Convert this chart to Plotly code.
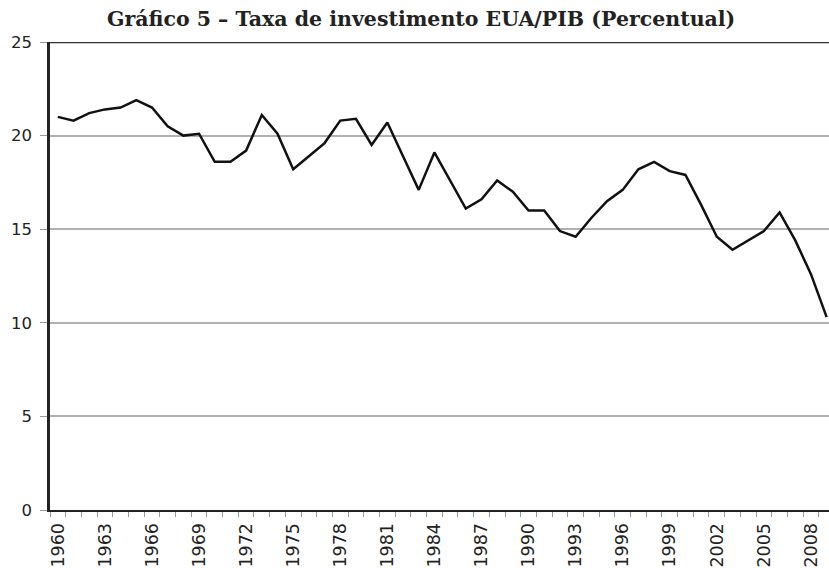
import plotly.graph_objects as go

years = list(range(1960, 2010))
taxa = [21.0, 20.8, 21.2, 21.4, 21.5, 21.9, 21.5, 20.5, 20.0, 20.1,
        18.6, 18.6, 19.2, 21.1, 20.1, 18.2, 18.9, 19.6, 20.8, 20.9,
        19.5, 20.7, 18.9, 17.1, 19.1, 17.6, 16.1, 16.6, 17.6, 17.0,
        16.0, 16.0, 14.9, 14.6, 15.6, 16.5, 17.1, 18.2, 18.6, 18.1,
        17.9, 16.3, 14.6, 13.9, 14.4, 14.9, 15.9, 14.4, 12.6, 10.3]
label_years = list(range(1960, 2010, 3))
y_ticks = [0, 5, 10, 15, 20, 25]

fig = go.Figure()
fig.add_trace(go.Scatter(x=years, y=taxa, mode="lines",
                         line=dict(color="#111111", width=2.5),
                         showlegend=False, hoverinfo="skip"))

fig.update_layout(
    width=829, height=568,
    margin=dict(l=50, r=0, t=42, b=55),
    paper_bgcolor="white", plot_bgcolor="white",
    title=dict(text="<b>Gráfico 5 – Taxa de investimento EUA/PIB (Percentual)</b>",
               font=dict(family="DejaVu Serif", size=20.5, color="#222222"),
               x=0.508, xanchor="center", xref="container",
               y=1 - 19 / 568, yanchor="middle", yref="container"),
    font=dict(family="DejaVu Sans", color="#222222"),
)
fig.update_xaxes(
    range=[1959.5, 2009.15],
    tickmode="array", tickvals=label_years, ticktext=[str(y) for y in label_years],
    tickangle=-90, tickfont=dict(family="DejaVu Sans", size=17.5, color="#222222"),
    ticks="", showgrid=False, zeroline=False,
    showline=True, linecolor="#222222", linewidth=2,
    minor=dict(ticks="outside", tick0=1959.5, dtick=1, ticklen=5,
               tickcolor="#999999", tickwidth=1, showgrid=False),
    ticklabelstandoff=4,
)
fig.update_yaxes(
    range=[0, 25], tickmode="array", tickvals=y_ticks,
    tickfont=dict(family="DejaVu Sans", size=16.5, color="#222222"),
    ticks="outside", ticklen=7, tickcolor="#999999", tickwidth=1,
    showgrid=True, gridcolor="#b0b0b0", gridwidth=1.5, zeroline=False,
    showline=True, linecolor="#222222", linewidth=2.5,
    ticklabelstandoff=5,
)
fig.add_shape(type="line", xref="paper", yref="y", x0=0, x1=1, y0=25, y1=25,
              line=dict(color="#333333", width=2.5))
fig.write_html("out.html", config={"displayModeBar": False},
               post_script="document.body.style.margin='0';document.body.style.overflow='hidden';")
